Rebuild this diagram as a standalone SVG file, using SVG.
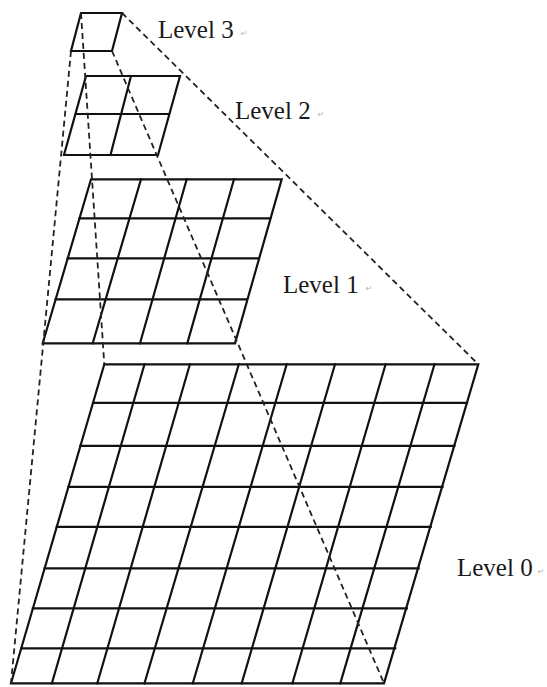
<svg xmlns="http://www.w3.org/2000/svg" width="547" height="687" viewBox="0 0 547 687">
  <style>
    .grid { fill: none; stroke: #111111; stroke-width: 2.2; stroke-linejoin: miter; stroke-linecap: square; }
    .dash { fill: none; stroke: #222222; stroke-width: 1.8; stroke-dasharray: 6 4; }
    .label { font-family: "Liberation Serif", "Times New Roman", serif; font-size: 25px; fill: #1a1a1a; }
    .mark { font-family: "DejaVu Sans", sans-serif; font-size: 8px; fill: #b5b5b5; }
  </style>
  <rect width="547" height="687" fill="#ffffff"/>

  <g id="level3">
    <path class="grid" d="M81,13 L122,13 L112,51 L71,51 Z"/>
  </g>

  <g id="level2">
    <path class="grid" d="M86,76 L180,76 L158,155 L64,155 Z"/>
    <path class="grid" d="M76,114 L168,114 M131,76 L110.5,155"/>
  </g>

  <g id="level1">
    <path class="grid" d="M91,179.3 L281.7,179.3 L235,343.3 L42.7,343.3 Z"/>
    <path class="grid" d="M79.5,218.3 L270.2,218.3 M67.7,258.3 L258.4,258.3 M55.7,299.3 L246.4,299.3"/>
    <path class="grid" d="M141,179.3 L92.7,343.3 M186.7,179.3 L140,343.3 M234,179.3 L187.3,343.3"/>
  </g>

  <g id="level0">
    <path class="grid" d="M104.3,364.3 L478.3,364.3 L384,683.3 L11,683.3 Z"/>
    <path class="grid" d="M93,402.9 L467,402.9 M80.4,445.9 L454.4,445.9 M68.5,486.8 L442.5,486.8 M56.8,526.8 L430.8,526.8 M44.6,568.4 L418.6,568.4 M32.9,608.4 L406.9,608.4 M21.2,648.3 L395.2,648.3"/>
    <path class="grid" d="M144.5,364.3 L51.9,683.3 M189.9,364.3 L97.3,683.3 M238.8,364.3 L144.5,683.3 M286.7,364.3 L192.8,683.3 M335,364.3 L241.7,683.3 M385.6,364.3 L292.4,683.3 M434.5,364.3 L340.3,683.3"/>
  </g>

  <g id="connectors">
    <line class="dash" x1="122" y1="13" x2="478.3" y2="364.3"/>
    <line class="dash" x1="112" y1="51" x2="384" y2="683.3"/>
    <line class="dash" x1="71" y1="51" x2="11" y2="683.3"/>
    <line class="dash" x1="81" y1="13" x2="104.3" y2="364.3"/>
  </g>

  <g id="labels">
    <text class="label" x="158" y="38">Level 3<tspan class="mark" dx="7" dy="-2">↵</tspan></text>
    <text class="label" x="235" y="119">Level 2<tspan class="mark" dx="7" dy="-2">↵</tspan></text>
    <text class="label" x="283" y="293">Level 1<tspan class="mark" dx="7" dy="-2">↵</tspan></text>
    <text class="label" x="457" y="576">Level 0<tspan class="mark" dx="5" dy="-2">↵</tspan></text>
  </g>
</svg>
